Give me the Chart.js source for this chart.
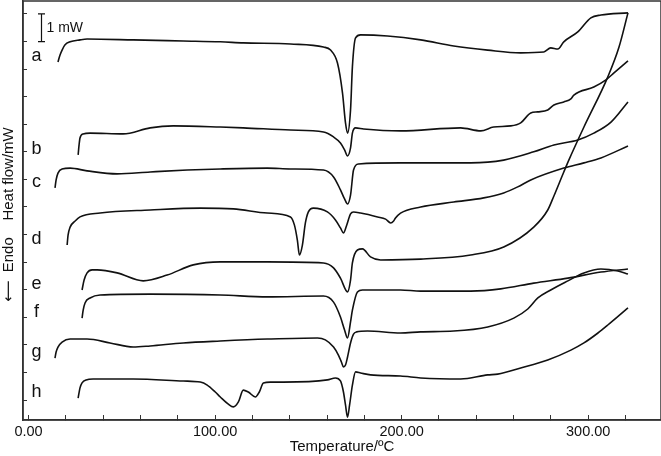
<!DOCTYPE html>
<html><head><meta charset="utf-8">
<script src="https://cdn.jsdelivr.net/npm/chart.js@4.4.0/dist/chart.umd.min.js"></script>
<style>html,body{margin:0;padding:0;background:#fff;}canvas{display:block;}</style>
</head><body>
<canvas id="c" width="661" height="456"></canvas>
<script>
// Temperature (°C), heat flow (mW, offset per curve)
const curveNames = ['a','b','c','d','e','f','g','h'];
const curveA = [[15.8,12.26],[16.9,12.51],[18.0,12.69],[19.6,12.88],[22.3,12.99],[27.6,13.06],[31.4,13.09],[56.1,13.06],[82.9,13.02],[102.8,12.99],[115.1,12.95],[140.4,12.91],[158.1,12.80],[161.9,12.69],[165.6,12.22],[168.3,11.13],[169.9,10.05],[171.0,9.68],[172.6,10.52],[173.6,12.08],[175.3,13.13],[178.0,13.24],[192.4,13.20],[210.2,13.06],[227.9,12.84],[246.1,12.69],[263.8,12.59],[276.2,12.62],[279.9,12.77],[283.7,12.73],[286.9,12.99],[294.4,13.35],[301.4,13.86],[306.8,13.96],[321.3,14.04]];
const curveB = [[26.6,8.89],[27.1,9.25],[27.6,9.50],[29.3,9.65],[33.0,9.68],[50.7,9.65],[65.2,9.87],[77.6,9.94],[102.8,9.90],[115.1,9.87],[140.4,9.79],[158.1,9.72],[163.5,9.54],[167.2,9.32],[169.4,9.07],[171.0,8.85],[172.6,9.14],[173.6,9.68],[175.3,9.87],[179.6,9.83],[199.4,9.76],[231.6,9.87],[242.4,9.76],[249.3,9.90],[258.5,9.94],[263.8,10.05],[269.2,10.41],[273.0,10.45],[278.3,10.52],[281.6,10.70],[286.9,10.81],[290.7,10.92],[292.3,11.06],[303.0,11.35],[309.5,11.61],[313.8,11.86],[321.3,12.30]];
const curveC = [[14.2,7.69],[14.8,7.98],[15.8,8.23],[18.0,8.38],[22.3,8.41],[31.4,8.31],[47.5,8.20],[65.2,8.27],[85.1,8.34],[102.8,8.38],[128.0,8.41],[140.4,8.38],[158.1,8.34],[163.5,8.09],[167.2,7.62],[169.4,7.29],[171.0,7.11],[172.6,7.43],[174.2,8.34],[176.9,8.56],[199.4,8.60],[237.0,8.60],[254.7,8.70],[270.8,9.00],[281.6,9.25],[294.4,9.43],[303.0,9.68],[312.2,10.08],[321.3,10.81]];
const curveD = [[20.7,5.62],[21.2,5.98],[22.3,6.27],[25.0,6.49],[27.6,6.64],[38.4,6.78],[65.2,6.89],[92.1,6.96],[109.8,6.93],[128.0,6.78],[140.4,6.64],[142.5,6.35],[144.1,5.80],[145.2,5.26],[146.8,5.62],[148.4,6.42],[150.0,6.82],[152.7,6.96],[160.2,6.82],[164.5,6.53],[167.2,6.24],[168.8,6.06],[170.4,6.31],[172.6,6.75],[174.2,6.82],[178.0,6.78],[187.1,6.64],[191.4,6.56],[194.1,6.42],[195.7,6.49],[196.7,6.60],[199.4,6.78],[210.2,7.00],[227.9,7.18],[244.0,7.33],[254.7,7.51],[262.2,7.73],[269.2,7.98],[286.9,8.41],[297.7,8.60],[306.8,8.78],[321.3,9.21]];
const curveE = [[28.7,3.99],[29.8,4.35],[31.4,4.61],[34.1,4.72],[36.8,4.72],[47.5,4.61],[61.5,4.32],[74.3,4.53],[88.3,4.90],[102.8,5.01],[128.0,5.01],[158.1,4.97],[163.5,4.79],[167.2,4.42],[171.0,3.92],[172.6,4.35],[173.6,4.97],[176.3,5.44],[179.0,5.48],[183.3,5.19],[188.7,5.08],[210.2,5.11],[237.0,5.26],[254.7,5.55],[270.8,6.27],[278.3,6.89],[281.6,7.40],[286.9,8.27],[289.6,8.70],[297.7,9.90],[310.5,11.72],[316.5,12.80],[321.3,14.04]];
const curveF = [[28.7,2.97],[29.3,3.26],[30.3,3.52],[33.0,3.70],[38.4,3.81],[65.2,3.84],[102.8,3.81],[128.0,3.74],[158.1,3.77],[163.5,3.55],[167.2,3.01],[169.4,2.54],[171.0,2.25],[172.6,2.83],[173.6,3.26],[176.3,3.92],[179.0,3.99],[199.4,3.99],[210.2,3.95],[237.0,3.95],[253.1,4.03],[270.8,4.24],[289.1,4.42],[306.8,4.64],[321.3,4.75]];
const curveG = [[14.2,1.52],[14.8,1.74],[15.8,1.92],[18.0,2.10],[22.3,2.21],[31.4,2.21],[43.7,2.07],[56.1,1.92],[65.2,1.96],[82.9,2.07],[102.8,2.14],[128.0,2.21],[154.9,2.25],[159.1,2.18],[163.5,1.92],[166.1,1.63],[167.7,1.38],[168.8,1.20],[169.9,1.27],[171.0,1.56],[172.6,2.07],[174.2,2.39],[175.8,2.47],[181.7,2.50],[199.4,2.43],[210.2,2.47],[227.9,2.50],[246.1,2.65],[260.1,2.97],[267.6,3.30],[273.0,3.70],[279.9,3.99],[289.1,4.32],[297.7,4.61],[306.8,4.75],[315.9,4.68],[321.3,4.57]];
const curveH = [[26.6,0.07],[27.6,0.44],[28.7,0.62],[30.9,0.73],[34.6,0.76],[56.1,0.76],[82.9,0.69],[92.1,0.65],[95.8,0.54],[100.1,0.29],[102.8,0.11],[107.1,-0.15],[109.8,-0.25],[112.5,-0.07],[115.1,0.36],[117.8,0.29],[121.6,0.11],[123.7,0.29],[125.9,0.62],[129.6,0.65],[136.6,0.65],[160.2,0.73],[164.5,0.80],[167.2,0.69],[168.8,0.29],[169.9,-0.18],[171.0,-0.62],[172.1,-0.18],[173.6,0.54],[175.3,1.02],[178.0,0.98],[183.3,0.91],[199.4,0.87],[210.2,0.80],[231.6,0.76],[246.1,0.91],[251.5,0.94],[263.8,1.16],[278.3,1.45],[290.7,1.81],[297.7,2.07],[305.2,2.43],[310.5,2.72],[321.3,3.34]];
const allCurves = [curveA, curveB, curveC, curveD, curveE, curveF, curveG, curveH];

const xTicks = [0,20,40,60,80,100,120,140,160,180,200,220,240,260,280,300,320];
const xLabelTicks = [0,100,200,300];
const yTicks = [0,1,2,3,4,5,6,7,8,9,10,11,12,13,14];
const xTitle = 'Temperature/ºC';
const yTitle = '\u27F5  Endo    Heat flow/mW  ';
const scaleBarText = '1 mW';

const FONT = '"Liberation Sans", Arial, Helvetica, "DejaVu Sans", sans-serif';

const decor = {
  id: 'decor',
  afterDraw(chart) {
    const {ctx, chartArea: ca, scales: {x, y}} = chart;
    ctx.save();
    ctx.strokeStyle = '#333';
    ctx.lineWidth = 1.5;
    ctx.strokeRect(ca.left, ca.top, ca.right - ca.left, ca.bottom - ca.top);
    // 1 mW scale bar
    const bx = Math.round(x.getPixelForValue(6.7)) + 0.5;
    const by1 = y.getPixelForValue(14), by2 = y.getPixelForValue(13);
    ctx.strokeStyle = '#111';
    ctx.lineWidth = 1.2;
    ctx.beginPath();
    ctx.moveTo(bx, by1); ctx.lineTo(bx, by2);
    ctx.moveTo(bx - 3.5, by1); ctx.lineTo(bx + 3.5, by1);
    ctx.moveTo(bx - 3.5, by2); ctx.lineTo(bx + 3.5, by2);
    ctx.stroke();
    ctx.fillStyle = '#111';
    ctx.font = '14px ' + FONT;
    ctx.textBaseline = 'middle';
    ctx.textAlign = 'left';
    ctx.fillText(scaleBarText, bx + 5, (by1 + by2) / 2);
    // curve letters
    ctx.font = '18px ' + FONT;
    ctx.textAlign = 'center';
    ctx.textBaseline = 'alphabetic';
    chart.data.datasets.forEach(ds => {
      const p = ds.data[0];
      ctx.fillText(ds.label, x.getPixelForValue(4.3), y.getPixelForValue(p.y) - 1);
    });
    ctx.restore();
  }
};

new Chart(document.getElementById('c'), {
  type: 'line',
  data: {
    datasets: allCurves.map((pts, i) => ({
      label: curveNames[i],
      data: pts.map(([t, h]) => ({x: t, y: h})),
      borderColor: '#111',
      borderWidth: 1.6,
      pointRadius: 0,
      fill: false,
      cubicInterpolationMode: 'monotone'
    }))
  },
  options: {
    responsive: false,
    animation: false,
    devicePixelRatio: 1,
    layout: {padding: {top: 1, right: 0, left: 0, bottom: 0}},
    plugins: {legend: {display: false}, tooltip: {enabled: false}},
    scales: {
      x: {
        type: 'linear', min: -2.95, max: 339,
        afterBuildTicks: s => { s.ticks = xTicks.map(v => ({value: v})); },
        afterFit: s => { s.height = 36; },
        grid: {drawOnChartArea: false, drawTicks: true, tickLength: -5, color: '#333', lineWidth: 1},
        border: {display: true, color: '#333', width: 1.5},
        ticks: {
          autoSkip: false, maxRotation: 0, padding: 8, color: '#111',
          font: {family: FONT, size: 14.5},
          callback: v => xLabelTicks.includes(v) ? v.toFixed(2) : ''
        },
        title: {display: true, text: xTitle, color: '#111', font: {family: FONT, size: 15}, padding: {top: 0, bottom: 0}}
      },
      y: {
        type: 'linear', min: -0.725, max: 14.47,
        afterBuildTicks: s => { s.ticks = yTicks.map(v => ({value: v})); },
        afterFit: s => { s.width = 23; },
        grid: {drawOnChartArea: false, drawTicks: true, tickLength: -4, color: '#333', lineWidth: 1},
        border: {display: true, color: '#333', width: 1.5},
        ticks: {display: false},
        title: {display: true, text: yTitle, color: '#111', font: {family: FONT, size: 15}, padding: 0}
      }
    }
  },
  plugins: [decor]
});
</script>
</body></html>
